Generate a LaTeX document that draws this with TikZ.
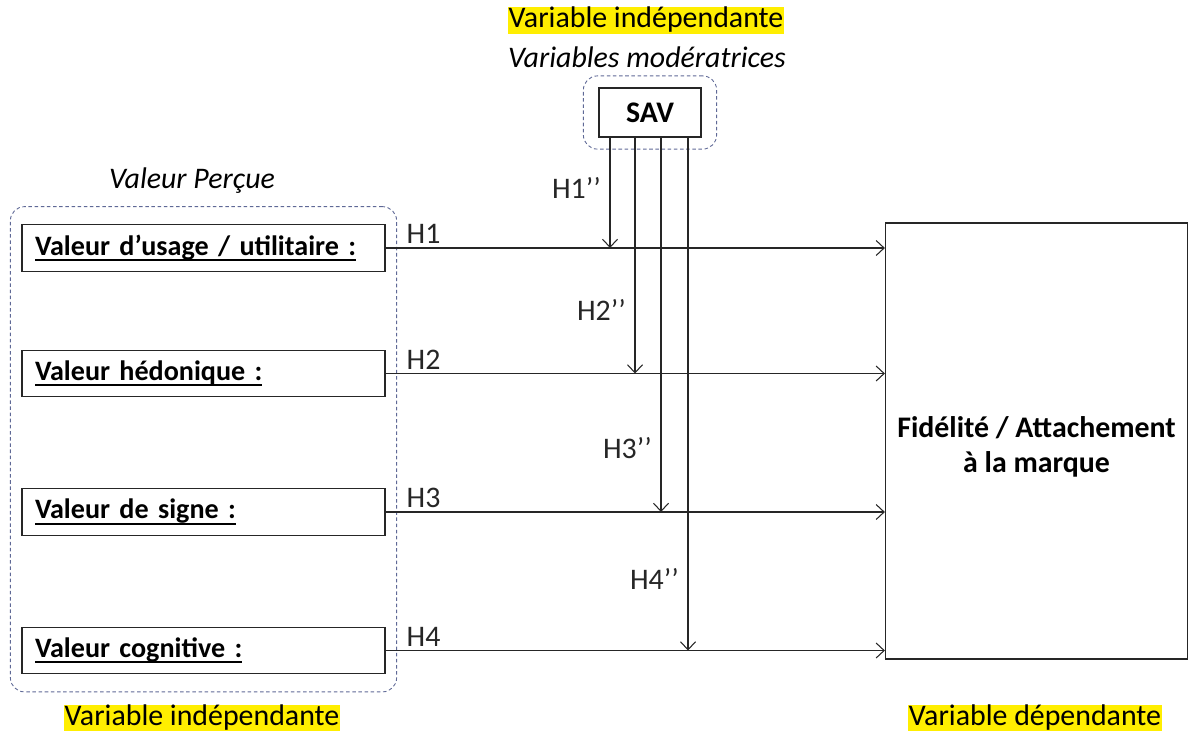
\documentclass[tikz,border=0pt]{standalone}
\usepackage{fontspec}
\setmainfont{Carlito}
\usetikzlibrary{arrows.meta, positioning, calc, fit}
\definecolor{hlyellow}{RGB}{255,238,0}
\definecolor{grpline}{RGB}{95,105,150}
\newcommand{\notesize}{\fontsize{17}{20}\selectfont}
\newcommand{\boxsize}{\fontsize{16}{19}\selectfont}
\newcommand{\undl}[1]{\setbox0\hbox{#1}\rlap{\rule[-3.3pt]{\wd0}{1.1pt}}\box0}
\tikzset{
    valbox/.style={rectangle, draw=black!85, line width=0.7pt, minimum width=7.26cm,
        minimum height=0.93cm, text width=6.74cm, align=left, font=\boxsize\bfseries},
    bigbox/.style={rectangle, draw=black!85, line width=0.7pt, minimum width=6.04cm,
        minimum height=8.72cm},
    savbox/.style={rectangle, draw=black!85, line width=0.7pt, minimum width=2.04cm,
        minimum height=0.98cm, font=\notesize\bfseries},
    grpbox/.style={rectangle, rounded corners=8pt, draw=grpline, dash pattern=on 2pt off 1.5pt,
        line width=0.5pt},
    hlnote/.style={fill=hlyellow, inner xsep=0.5pt, inner ysep=0.5pt,
        text height=11pt, text depth=3pt},
    itnote/.style={font=\notesize\itshape},
    hyparrow/.style={-{Straight Barb[length=1.6mm, width=3mm]}, line width=0.6pt, black!85},
    hlabel/.style={anchor=south west, xshift=0.34cm, inner sep=2pt},
}

\begin{document}
\begin{tikzpicture}[font=\notesize]
    \useasboundingbox (0,0) rectangle (23.76,-14.66);

    % moderateur
    \node[hlnote] (topnote) at (12.92,-0.41) {Variable indépendante};
    \node[itnote] (modnote) at (12.94,-1.14) {Variables modératrices};
    \node[savbox] (sav) at (13.0,-2.25) {SAV};
    \node[grpbox, fit=(sav), inner xsep=0.3cm, inner ysep=0.23cm] (savgroup) {};

    % valeur percue
    \node[itnote] (vpnote) at (3.84,-3.62) {Valeur Perçue};
    \node[valbox] (usage) at (4.07,-4.96) {\undl{Valeur d’usage / utilitaire :}};
    \node[valbox] (hedo)  at (4.07,-7.47) {\undl{Valeur hédonique :}};
    \node[valbox] (signe) at (4.07,-10.24) {\undl{Valeur de signe :}};
    \node[valbox] (cogn)  at (4.07,-13.01) {\undl{Valeur cognitive :}};
    \node[grpbox, fit=(usage)(cogn), inner xsep=0.22cm, inner ysep=0.35cm] (valgroup) {};
    \node[hlnote] (leftnote) at (4.04,-14.36) {Variable indépendante};

    % variable dependante
    \node[bigbox] (fidel) at (20.73,-8.82) {};
    \node[font=\notesize\bfseries, align=center] (fideltext) at ([yshift=-0.12cm]fidel.center)
        {Fidélité / Attachement\\à la marque};
    \node[hlnote] (rightnote) at (20.7,-14.36) {Variable dépendante};

    % effets directs
    \draw[hyparrow] (usage.east) -- node[hlabel, pos=0] {H1} (fidel.west |- usage.east);
    \draw[hyparrow] (hedo.east)  -- node[hlabel, pos=0] {H2} (fidel.west |- hedo.east);
    \draw[hyparrow] (signe.east) -- node[hlabel, pos=0] {H3} (fidel.west |- signe.east);
    \draw[hyparrow] (cogn.east)  -- node[hlabel, pos=0] {H4} (fidel.west |- cogn.east);

    % effets moderateurs
    \coordinate (m1) at ([xshift=-0.8cm]sav.south);
    \coordinate (m2) at ([xshift=-0.3cm]sav.south);
    \coordinate (m3) at ([xshift=0.22cm]sav.south);
    \coordinate (m4) at ([xshift=0.76cm]sav.south);
    \draw[hyparrow] (m1) -- node[left, pos=0.46, inner sep=5pt] {H1’’} (m1 |- usage.east);
    \draw[hyparrow] (m2) -- node[left, pos=0.73, inner sep=5pt] {H2’’} (m2 |- hedo.east);
    \draw[hyparrow] (m3) -- node[left, pos=0.83, inner sep=5pt] {H3’’} (m3 |- signe.east);
    \draw[hyparrow] (m4) -- node[left, pos=0.86, inner sep=5pt] {H4’’} (m4 |- cogn.east);
\end{tikzpicture}
\end{document}
